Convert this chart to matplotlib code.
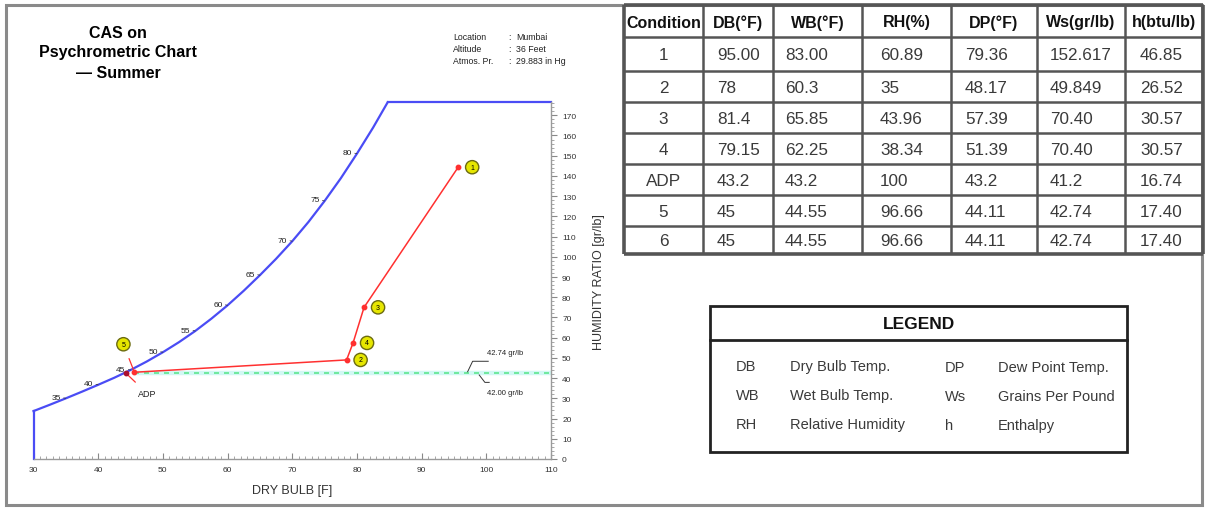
import matplotlib
matplotlib.use('Agg')
import matplotlib.pyplot as plt
from matplotlib import font_manager as fm
from matplotlib.ticker import MultipleLocator
from matplotlib.patches import Rectangle

# ---------------- data ----------------
sat_db = [30, 32.5, 35, 37.5, 40, 42.5, 45, 47.5, 50, 52.5, 55, 57.5, 60,
          62.5, 65, 67.5, 70, 72.5, 75, 77.5, 80, 82.5, 84.75]
sat_w = [23.7, 26.8, 30.0, 33.3, 36.7, 40.2, 44.0, 48.2, 52.8, 57.8, 63.3,
         69.4, 76.0, 83.2, 90.9, 99.0, 107.7, 117.2, 127.6, 138.8, 151.0,
         163.9, 176.4]
sat_labels = [35, 40, 45, 50, 55, 60, 65, 70, 75, 80]

proc_labels = ['1', '3', '4', '2', '5']
proc_db = [95.65, 81.1, 79.4, 78.4, 45.6]
proc_w = [144.3, 75.0, 57.4, 49.0, 42.9]
adp_db, adp_w = 44.3, 42.4
supply_w = 42.74

info_keys = ['Location', 'Altitude', 'Atmos. Pr.']
info_vals = ['Mumbai', '36 Feet', '29.883 in Hg']

tbl_header = ['Condition', 'DB(°F)', 'WB(°F)', 'RH(%)', 'DP(°F)', 'Ws(gr/lb)', 'h(btu/lb)']
tbl_cond = ['1', '2', '3', '4', 'ADP', '5', '6']
tbl_db = ['95.00', '78', '81.4', '79.15', '43.2', '45', '45']
tbl_wb = ['83.00', '60.3', '65.85', '62.25', '43.2', '44.55', '44.55']
tbl_rh = ['60.89', '35', '43.96', '38.34', '100', '96.66', '96.66']
tbl_dp = ['79.36', '48.17', '57.39', '51.39', '43.2', '44.11', '44.11']
tbl_ws = ['152.617', '49.849', '70.40', '70.40', '41.2', '42.74', '42.74']
tbl_h = ['46.85', '26.52', '30.57', '30.57', '16.74', '17.40', '17.40']

leg_abbr_l = ['DB', 'WB', 'RH']
leg_desc_l = ['Dry Bulb Temp.', 'Wet Bulb Temp.', 'Relative Humidity']
leg_abbr_r = ['DP', 'Ws', 'h']
leg_desc_r = ['Dew Point Temp.', 'Grains Per Pound', 'Enthalpy']

# ---------------- fonts ----------------
def have(name):
    try:
        fm.findfont(fm.FontProperties(family=name), fallback_to_default=False)
        return True
    except Exception:
        return False

SANS = 'Liberation Sans' if have('Liberation Sans') else 'DejaVu Sans'
plt.rcParams['font.family'] = [SANS, 'DejaVu Sans']

W_PX, H_PX = 1207, 510
DPI = 100
fig = plt.figure(figsize=(W_PX / DPI, H_PX / DPI), dpi=DPI)
fig.patch.set_facecolor('white')

# overlay axes in pixel coordinates for frame / table / legend
ov = fig.add_axes([0, 0, 1, 1])
ov.set_xlim(0, W_PX)
ov.set_ylim(H_PX, 0)
ov.axis('off')
ov.patch.set_alpha(0)

# outer frame
ov.add_patch(Rectangle((6, 6), 1196, 500, fill=False, ec='#8a8a8a', lw=2.2))

# ---------------- main psychrometric axes ----------------
x0, x1, yb, yt = 33.5, 551, 460, 103.3
ax = fig.add_axes([x0 / W_PX, (H_PX - yb) / H_PX, (x1 - x0) / W_PX, (yb - yt) / H_PX])
ax.set_xlim(30, 110)
ax.set_ylim(0, 176.4)
ax.patch.set_alpha(0)
for s in ['left', 'top']:
    ax.spines[s].set_visible(False)
for s in ['bottom', 'right']:
    ax.spines[s].set_color('#9a9a9a')
    ax.spines[s].set_linewidth(1.0)

ax.xaxis.set_major_locator(MultipleLocator(10))
ax.xaxis.set_minor_locator(MultipleLocator(1))
ax.yaxis.tick_right()
ax.yaxis.set_major_locator(MultipleLocator(10))
ax.yaxis.set_minor_locator(MultipleLocator(2))
ax.tick_params(axis='x', which='major', direction='in', length=4, width=0.8,
               color='#888888', labelsize=6, labelcolor='#333333', pad=5)
ax.tick_params(axis='x', which='minor', direction='in', length=2.5, width=0.6, color='#999999')
ax.tick_params(axis='y', which='major', direction='out', length=4, width=0.8,
               color='#888888', labelsize=6, labelcolor='#333333', pad=4)
ax.tick_params(axis='y', which='minor', direction='out', length=2.5, width=0.6, color='#999999')
ax.set_xlabel('DRY BULB [F]', fontsize=9, color='#333333', labelpad=8)
ax.yaxis.set_label_position('right')
ax.set_ylabel('HUMIDITY RATIO [gr/lb]', fontsize=9, color='#333333', labelpad=12)

blue = '#4a4cf5'
ax.plot([sat_db[0], sat_db[0]], [0, sat_w[0]], color=blue, lw=1.6, clip_on=False)
ax.plot(sat_db, sat_w, color=blue, lw=1.6, clip_on=False)
ax.plot([sat_db[-1], 110], [sat_w[-1], sat_w[-1]], color=blue, lw=1.6, clip_on=False)

# saturation temperature labels
for t in sat_labels:
    wv = sat_w[sat_db.index(t)]
    ax.annotate(str(t), xy=(t, wv), xycoords='data', xytext=(-5, 1), textcoords='offset pixels',
                fontsize=6, color='#222222', ha='right', va='center',
                arrowprops=dict(arrowstyle='-', color='#333333', lw=0.5, shrinkA=0, shrinkB=0,
                                relpos=(1.0, 0.5)))

# supply humidity line
ax.plot([proc_db[-1], 110], [supply_w, supply_w], color='#d2f8f4', lw=3.2, solid_capstyle='butt', zorder=2)
ax.plot([proc_db[-1], 110], [supply_w, supply_w], color='#5ee68f', lw=1.2, ls=(0, (3, 3)), zorder=3)

# process lines
red = '#ff3030'
ax.plot(proc_db, proc_w, color=red, lw=1.1, zorder=4)
ax.plot(proc_db, proc_w, ls='none', marker='o', ms=3.2, color=red, zorder=5)
ax.plot([adp_db], [adp_w], ls='none', marker='o', ms=3.2, color='#aa1030', zorder=5)

circ = dict(boxstyle='circle,pad=0.45', fc='#e6e600', ec='#6b6b10', lw=1.0)
for lab, xv, yv in zip(proc_labels, proc_db, proc_w):
    if lab == '5':
        ax.annotate(lab, xy=(xv, yv), xytext=(-11, 28), textcoords='offset pixels',
                    fontsize=5, ha='center', va='center', bbox=circ, zorder=6,
                    arrowprops=dict(arrowstyle='-', color=red, lw=0.9, shrinkA=6, shrinkB=1))
    else:
        ax.annotate(lab, xy=(xv, yv), xytext=(14, 0), textcoords='offset pixels',
                    fontsize=5, ha='center', va='center', bbox=circ, zorder=6)

ax.annotate('ADP', xy=(adp_db, adp_w), xytext=(21, -20), textcoords='offset pixels',
            fontsize=6.5, ha='center', va='center', color='#222222',
            arrowprops=dict(arrowstyle='-', color=red, lw=0.9, shrinkA=4, shrinkB=0))

# supply annotations
ax.plot([97.05, 97.05 + 5.4 / 6.47, 97.05 + 21 / 6.47],
        [supply_w, supply_w + 11.3 / 2.022, supply_w + 11.3 / 2.022], color='#333333', lw=0.7)
ax.text(100.1, 52.6, '42.74 gr/lb', fontsize=5.5, color='#222222', ha='left', va='center')
ax.plot([98.9, 98.9 + 5.7 / 6.47, 98.9 + 10 / 6.47],
        [supply_w - 2.4 / 2.022, supply_w - 9.8 / 2.022, supply_w - 9.8 / 2.022], color='#333333', lw=0.7)
ax.text(100.1, 33.0, '42.00 gr/lb', fontsize=5.5, color='#222222', ha='left', va='center')

# title and info
ov.text(118, 33, 'CAS on', fontsize=11.5, fontweight='bold', ha='center', va='center')
ov.text(118, 53, 'Psychrometric Chart', fontsize=11.5, fontweight='bold', ha='center', va='center')
ov.text(118, 74, '— Summer', fontsize=11.5, fontweight='bold', ha='center', va='center')
for i, (k, v) in enumerate(zip(info_keys, info_vals)):
    yy = 37 + 12 * i
    ov.text(453, yy, k, fontsize=6.3, ha='left', va='center', color='#222222')
    ov.text(508, yy, ':', fontsize=6.3, ha='left', va='center', color='#222222')
    ov.text(516, yy, v, fontsize=6.3, ha='left', va='center', color='#222222')

# ---------------- table ----------------
col_edges = [624, 703, 773, 862, 951, 1037, 1125, 1203]
row_edges = [6, 38, 72, 103, 134, 165, 196, 227, 255]
lc = '#555555'
for xe in col_edges:
    ov.plot([xe, xe], [row_edges[0], row_edges[-1]], color=lc,
            lw=2.6 if xe in (col_edges[0], col_edges[-1]) else 1.8, solid_capstyle='butt')
for ye in row_edges:
    ov.plot([col_edges[0], col_edges[-1]], [ye, ye], color=lc,
            lw=2.6 if ye in (row_edges[0], row_edges[-1]) else 1.8, solid_capstyle='butt')

for j, h in enumerate(tbl_header):
    cx = (col_edges[j] + col_edges[j + 1]) / 2
    cy = (row_edges[0] + row_edges[1]) / 2
    ov.text(cx, cy + 1, h, fontsize=11.5, fontweight='bold',
            ha='center', va='center', color='#111111')

cols = [tbl_cond, tbl_db, tbl_wb, tbl_rh, tbl_dp, tbl_ws, tbl_h]
pads = [0, 14, 12, 18, 14, 13, 15]
for j, col in enumerate(cols):
    for i, val in enumerate(col):
        cy = (row_edges[i + 1] + row_edges[i + 2]) / 2 + 1
        if j == 0:
            cx = (col_edges[0] + col_edges[1]) / 2
            ha = 'center'
        else:
            cx = col_edges[j] + pads[j]
            ha = 'left'
        ov.text(cx, cy, val, fontsize=12.3,
                ha=ha, va='center', color='#3a3a3a')

# ---------------- legend box ----------------
ov.add_patch(Rectangle((710, 307), 417, 146, fill=False, ec='#222222', lw=2.0))
ov.plot([710, 1127], [341, 341], color='#222222', lw=2.0)
ov.text(918.5, 325, 'LEGEND', fontsize=12.5, fontweight='bold',
        ha='center', va='center', color='#111111')
for i in range(3):
    yy = 367 + 29 * i
    ov.text(736, yy, leg_abbr_l[i], fontsize=10.5, ha='left', va='center', color='#3a3a3a')
    ov.text(790, yy, leg_desc_l[i], fontsize=10.5, ha='left', va='center', color='#3a3a3a')
    ov.text(945, yy + 1, leg_abbr_r[i], fontsize=10.5, ha='left', va='center', color='#3a3a3a')
    ov.text(998, yy + 1, leg_desc_r[i], fontsize=10.5, ha='left', va='center', color='#3a3a3a')

fig.savefig('out.png', dpi=DPI)
